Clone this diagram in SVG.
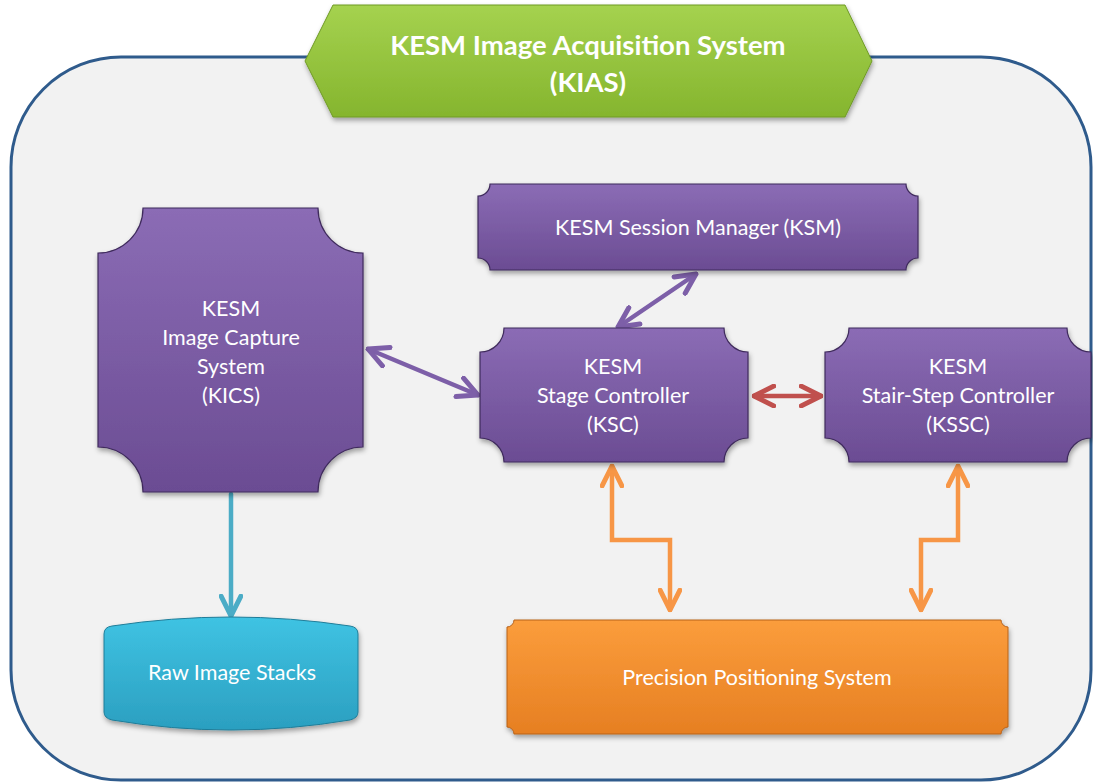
<svg xmlns="http://www.w3.org/2000/svg" width="1093" height="784" viewBox="0 0 1093 784">
<defs>
<linearGradient id="gPurple" x1="0" y1="0" x2="0" y2="1">
<stop offset="0" stop-color="#8b6cb5"/>
<stop offset="1" stop-color="#6b4c93"/>
</linearGradient>
<linearGradient id="gGreen" x1="0" y1="0" x2="0" y2="1">
<stop offset="0" stop-color="#a5d24f"/>
<stop offset="1" stop-color="#85b52e"/>
</linearGradient>
<linearGradient id="gTeal" x1="0" y1="0" x2="0" y2="1">
<stop offset="0" stop-color="#3fc3e3"/>
<stop offset="1" stop-color="#2b9fc0"/>
</linearGradient>
<linearGradient id="gOrange" x1="0" y1="0" x2="0" y2="1">
<stop offset="0" stop-color="#fb9d3c"/>
<stop offset="1" stop-color="#e67f22"/>
</linearGradient>
<filter id="sh" x="-10%" y="-10%" width="120%" height="125%">
<feDropShadow dx="1" dy="3" stdDeviation="2.5" flood-color="#000" flood-opacity="0.35"/>
</filter>
<marker id="mPurple" viewBox="0 0 10 10" refX="9" refY="5" markerWidth="5.5" markerHeight="5.5" orient="auto-start-reverse" markerUnits="strokeWidth">
<path d="M1,1 L9,5 L1,9" fill="none" stroke="#7d5fa8" stroke-width="2" stroke-linecap="round" stroke-linejoin="round"/>
</marker>
<marker id="mRed" viewBox="0 0 10 10" refX="9" refY="5" markerWidth="5.5" markerHeight="5.5" orient="auto-start-reverse" markerUnits="strokeWidth">
<path d="M1,1 L9,5 L1,9" fill="none" stroke="#c0504d" stroke-width="2" stroke-linecap="round" stroke-linejoin="round"/>
</marker>
<marker id="mTeal" viewBox="0 0 10 10" refX="9" refY="5" markerWidth="5.5" markerHeight="5.5" orient="auto-start-reverse" markerUnits="strokeWidth">
<path d="M1,1 L9,5 L1,9" fill="none" stroke="#4bacc6" stroke-width="2" stroke-linecap="round" stroke-linejoin="round"/>
</marker>
<marker id="mOrange" viewBox="0 0 10 10" refX="9" refY="5" markerWidth="5.5" markerHeight="5.5" orient="auto-start-reverse" markerUnits="strokeWidth">
<path d="M1,1 L9,5 L1,9" fill="none" stroke="#f79646" stroke-width="2" stroke-linecap="round" stroke-linejoin="round"/>
</marker>
</defs>
<style>
.lbl { font-family: Lato, "Open Sans", sans-serif; font-size: 21.5px; fill: #ffffff; text-anchor: middle; }
.ttl { font-family: Lato, "Open Sans", sans-serif; font-size: 27.5px; font-weight: bold; fill: #ffffff; text-anchor: middle; }
.pnode { fill: url(#gPurple); stroke: #3f2b5c; stroke-width: 1.2; filter: url(#sh); }
.conn { fill: none; stroke-width: 4.5; stroke-linecap: round; stroke-linejoin: miter; }
</style>
<rect x="0" y="0" width="1093" height="784" fill="#ffffff"/>
<g id="container">
<rect x="11" y="57" width="1080" height="723" rx="110" ry="110" fill="#f2f2f2" stroke="#2f5b8c" stroke-width="3"/>
</g>
<g id="title">
<path d="M305,61 L333,5 L845,5 L872,61 L845,117 L333,117 Z" fill="url(#gGreen)" stroke="#6f9a25" stroke-width="1" filter="url(#sh)"/>
<text class="ttl" x="588" y="55">KESM Image Acquisition System</text>
<text class="ttl" x="588" y="92">(KIAS)</text>
</g>
<g id="connectors">
<line class="conn" x1="368" y1="349" x2="478" y2="395" stroke="#7d5fa8" marker-start="url(#mPurple)" marker-end="url(#mPurple)"/>
<line class="conn" x1="696" y1="274" x2="618" y2="327" stroke="#7d5fa8" marker-start="url(#mPurple)" marker-end="url(#mPurple)"/>
<line class="conn" x1="754" y1="396" x2="821" y2="396" stroke="#c0504d" marker-start="url(#mRed)" marker-end="url(#mRed)"/>
<line class="conn" x1="231" y1="494" x2="231" y2="616" stroke="#4bacc6" marker-end="url(#mTeal)"/>
<path class="conn" d="M612,466 L612,540 L670,540 L670,610" stroke="#f79646" marker-start="url(#mOrange)" marker-end="url(#mOrange)"/>
<path class="conn" d="M958,466 L958,540 L921,540 L921,610" stroke="#f79646" marker-start="url(#mOrange)" marker-end="url(#mOrange)"/>
</g>
<g id="kics">
<path class="pnode" d="M143,208 L318,208 A45,45 0 0 0 363,253 L363,447 A45,45 0 0 0 318,492 L143,492 A45,45 0 0 0 98,447 L98,253 A45,45 0 0 0 143,208 Z"/>
<text class="lbl" x="231" y="316">KESM</text>
<text class="lbl" x="231" y="345">Image Capture</text>
<text class="lbl" x="231" y="374">System</text>
<text class="lbl" x="231" y="403">(KICS)</text>
</g>
<g id="ksm">
<path class="pnode" d="M490,184 L906,184 A12,12 0 0 0 918,196 L918,258 A12,12 0 0 0 906,270 L490,270 A12,12 0 0 0 478,258 L478,196 A12,12 0 0 0 490,184 Z"/>
<text class="lbl" x="698" y="235">KESM Session Manager (KSM)</text>
</g>
<g id="ksc">
<path class="pnode" d="M504,328 L724,328 A24,24 0 0 0 748,352 L748,438 A24,24 0 0 0 724,462 L504,462 A24,24 0 0 0 480,438 L480,352 A24,24 0 0 0 504,328 Z"/>
<text class="lbl" x="613" y="374">KESM</text>
<text class="lbl" x="613" y="403">Stage Controller</text>
<text class="lbl" x="613" y="432">(KSC)</text>
</g>
<g id="kssc">
<path class="pnode" d="M849,328 L1067,328 A24,24 0 0 0 1091,352 L1091,438 A24,24 0 0 0 1067,462 L849,462 A24,24 0 0 0 825,438 L825,352 A24,24 0 0 0 849,328 Z"/>
<text class="lbl" x="958" y="374">KESM</text>
<text class="lbl" x="958" y="403">Stair-Step Controller</text>
<text class="lbl" x="958" y="432">(KSSC)</text>
</g>
<g id="raw">
<path d="M104,634 Q104,627 112,626 Q231,608 350,626 Q358,627 358,634 L358,712 Q358,718 350,720 Q231,740 112,720 Q104,718 104,712 Z" fill="url(#gTeal)" stroke="#1f7d99" stroke-width="1" filter="url(#sh)"/>
<text class="lbl" x="232" y="680">Raw Image Stacks</text>
</g>
<g id="pps">
<path d="M514,620 L1001,620 A7,7 0 0 0 1008,627 L1008,727 A7,7 0 0 0 1001,734 L514,734 A7,7 0 0 0 507,727 L507,627 A7,7 0 0 0 514,620 Z" fill="url(#gOrange)" stroke="#b8621a" stroke-width="1" filter="url(#sh)"/>
<text class="lbl" x="757" y="685">Precision Positioning System</text>
</g>
</svg>
